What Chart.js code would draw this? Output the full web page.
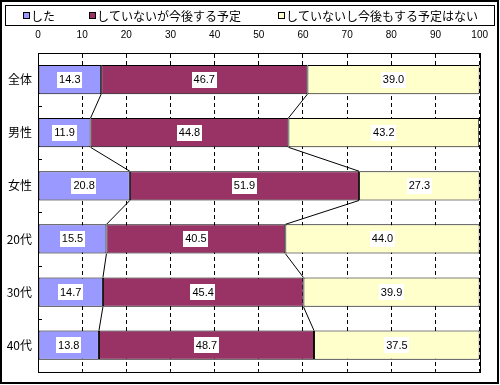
<!DOCTYPE html>
<html>
<head>
<meta charset="utf-8">
<script src="https://cdn.jsdelivr.net/npm/chart.js@4.4.0/dist/chart.umd.min.js"></script>
<style>
  html, body { margin: 0; padding: 0; background: #fff; }
  canvas { display: block; }
</style>
</head>
<body>
<canvas id="chart" width="500" height="385"></canvas>
<script>
// データ
const categories = ['全体', '男性', '女性', '20代', '30代', '40代'];
const seriesNames = ['した', 'していないが今後する予定', 'していないし今後もする予定はない'];
const did = [14.3, 11.9, 20.8, 15.5, 14.7, 13.8];
const willDo = [46.7, 44.8, 51.9, 40.5, 45.4, 48.7];
const wontDo = [39.0, 43.2, 27.3, 44.0, 39.9, 37.5];
const xTicks = [0, 10, 20, 30, 40, 50, 60, 70, 80, 90, 100];

const colors = ['#9999FF', '#993366', '#FFFFCC'];
const jpFont = '"Noto Sans CJK JP", "Noto Sans", sans-serif';
const numFont = '"Liberation Sans", Arial, sans-serif';

// 枠・凡例・目盛り
const framePlugin = {
  id: 'frame',
  afterDraw(chart) {
    const ctx = chart.ctx;
    const a = chart.chartArea;
    ctx.save();
    ctx.strokeStyle = '#000';

    // 外枠
    ctx.lineWidth = 2;
    ctx.strokeRect(1, 1, 497, 382);

    // 凡例
    ctx.lineWidth = 1;
    ctx.strokeRect(5.5, 5.5, 489, 20);
    const itemX = [23, 89, 278];
    chart.data.datasets.forEach((ds, i) => {
      ctx.fillStyle = ds.backgroundColor;
      ctx.fillRect(itemX[i], 12, 7, 7);
      ctx.strokeRect(itemX[i] + 0.5, 12.5, 6, 6);
      ctx.fillStyle = '#000';
      ctx.font = '12px ' + jpFont;
      ctx.textBaseline = 'middle';
      ctx.textAlign = 'left';
      ctx.fillText(ds.label, itemX[i] + 8, 16);
    });

    // プロットエリア枠
    ctx.strokeRect(Math.round(a.left) + 0.5, Math.round(a.top) + 0.5,
      Math.round(a.right - a.left), Math.round(a.bottom - a.top));

    // 項目軸の目盛り（内向き）
    const y = chart.scales.y;
    for (let i = 0; i < categories.length - 1; i++) {
      const py = Math.round((y.getPixelForValue(i) + y.getPixelForValue(i + 1)) / 2) + 0.5;
      ctx.beginPath();
      ctx.moveTo(a.left, py);
      ctx.lineTo(a.left + 4, py);
      ctx.stroke();
    }
    ctx.restore();
  }
};

// 区分線
const seriesLinesPlugin = {
  id: 'seriesLines',
  afterDatasetsDraw(chart) {
    const ctx = chart.ctx;
    ctx.save();
    ctx.strokeStyle = '#000';
    ctx.lineWidth = 1;
    for (let d = 0; d < 2; d++) {
      const bars = chart.getDatasetMeta(d).data;
      for (let i = 0; i < bars.length - 1; i++) {
        const b0 = bars[i], b1 = bars[i + 1];
        ctx.beginPath();
        ctx.moveTo(b0.x, b0.y + b0.height / 2);
        ctx.lineTo(b1.x, b1.y - b1.height / 2);
        ctx.stroke();
      }
    }
    ctx.restore();
  }
};

// データラベル
const labelPlugin = {
  id: 'valueLabels',
  afterDatasetsDraw(chart) {
    const ctx = chart.ctx;
    ctx.save();
    ctx.font = '11px ' + numFont;
    ctx.textAlign = 'center';
    ctx.textBaseline = 'middle';
    chart.data.datasets.forEach((ds, d) => {
      chart.getDatasetMeta(d).data.forEach((bar, i) => {
        const txt = ds.data[i].toFixed(1);
        const cx = (bar.x + bar.base) / 2;
        const cy = bar.y;
        const w = ctx.measureText(txt).width + 4;
        ctx.fillStyle = '#fff';
        ctx.fillRect(Math.round(cx - w / 2), Math.round(cy - 8), Math.round(w), 16);
        ctx.fillStyle = '#000';
        ctx.fillText(txt, cx, cy + 0.5);
      });
    });
    ctx.restore();
  }
};

const makeSet = (label, data, i) => ({
  label: label,
  data: data,
  backgroundColor: colors[i],
  borderColor: '#000',
  borderWidth: 1,
  borderSkipped: false,
  categoryPercentage: 1,
  barPercentage: 0.55
});

new Chart(document.getElementById('chart'), {
  type: 'bar',
  data: {
    labels: categories,
    datasets: [
      makeSet(seriesNames[0], did, 0),
      makeSet(seriesNames[1], willDo, 1),
      makeSet(seriesNames[2], wontDo, 2)
    ]
  },
  options: {
    indexAxis: 'y',
    responsive: false,
    animation: false,
    layout: { padding: { top: 26, right: 16, bottom: 5, left: 0 } },
    plugins: {
      legend: { display: false },
      tooltip: { enabled: false }
    },
    scales: {
      x: {
        position: 'top',
        stacked: true,
        min: 0,
        max: 100,
        afterBuildTicks: s => { s.ticks = xTicks.map(v => ({ value: v })); },
        afterFit: s => { s.height = 27; },
        grid: {
          color: '#000',
          lineWidth: 1,
          drawTicks: false
        },
        border: { display: true, color: '#000', dash: [4, 3] },
        ticks: {
          color: '#000',
          font: { family: numFont, size: 10 },
          padding: 12,
          maxRotation: 0
        }
      },
      y: {
        stacked: true,
        afterFit: s => { s.width = 38; },
        grid: { display: false, drawTicks: false },
        border: { display: false },
        ticks: {
          color: '#000',
          font: { family: jpFont, size: 12 },
          padding: 6
        }
      }
    }
  },
  plugins: [framePlugin, seriesLinesPlugin, labelPlugin]
});
</script>
</body>
</html>
